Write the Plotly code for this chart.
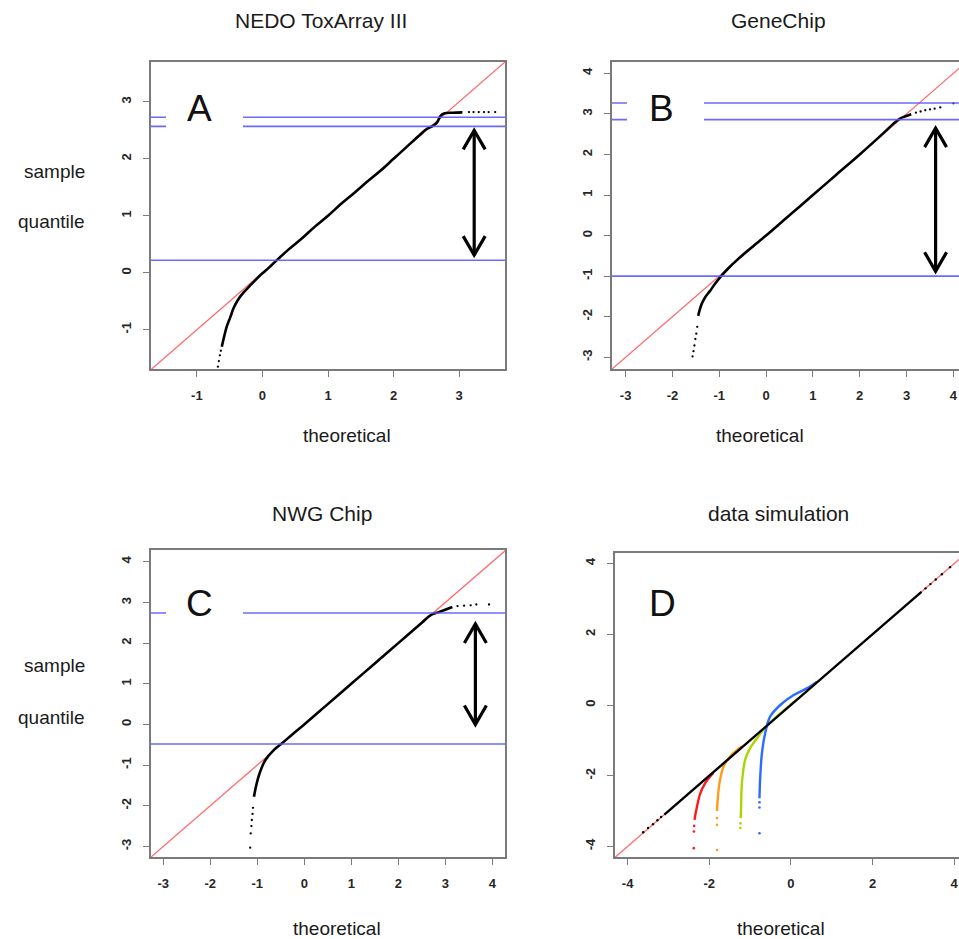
import plotly.graph_objects as go

W, H = 959, 939
FONT = "Liberation Sans, Arial, sans-serif"

# ---------------- data ----------------
titles = ["NEDO ToxArray III", "GeneChip", "NWG Chip", "data simulation"]
letters = ["A", "B", "C", "D"]

# Panel A
a_theo = [-0.62, -0.58, -0.54, -0.49, -0.44, -0.37, -0.29, -0.2, -0.1, 0.0, 0.1, 0.2, 0.4, 0.6, 0.8,
          1.0, 1.2, 1.4, 1.6, 1.8, 2.0, 2.2, 2.4, 2.5, 2.6, 2.66, 2.72, 2.78, 2.9, 3.05]
a_samp = [-1.30, -1.10, -0.93, -0.78, -0.62, -0.47, -0.35, -0.24, -0.12, -0.01, 0.09, 0.2, 0.41, 0.6, 0.81,
          1.0, 1.21, 1.4, 1.6, 1.79, 2.0, 2.21, 2.42, 2.52, 2.58, 2.63, 2.76, 2.80, 2.81, 2.815]
a_tail_theo = [-0.68, -0.665, -0.65, -0.635, 3.15, 3.22, 3.3, 3.38, 3.45, 3.55]
a_tail_samp = [-1.65, -1.55, -1.45, -1.37, 2.82, 2.82, 2.82, 2.82, 2.82, 2.82]
a_hlines = [2.73, 2.57, 0.22]
a_arrow = [3.23, 2.50, 0.31]

# Panel B
b_theo = [-1.45, -1.38, -1.3, -1.2, -1.09, -0.95, -0.8, -0.6, -0.4, -0.2, 0.0, 0.5, 1.0, 1.5, 2.0, 2.5,
          2.72, 2.85, 2.95, 3.1]
b_samp = [-1.98, -1.70, -1.52, -1.37, -1.19, -0.99, -0.80, -0.58, -0.38, -0.19, 0.0, 0.5, 1.0, 1.5, 2.0, 2.52,
          2.76, 2.88, 2.93, 2.99]
b_tail_theo = [-1.57, -1.55, -1.53, -1.51, -1.49, -1.47, 3.2, 3.3, 3.4, 3.5, 3.6, 3.72, 4.0]
b_tail_samp = [-2.98, -2.85, -2.71, -2.55, -2.42, -2.25, 3.03, 3.06, 3.09, 3.11, 3.13, 3.16, 3.26]
b_hlines = [3.27, 2.86, -1.0]
b_arrow = [3.62, 2.65, -0.88]

# Panel C
c_theo = [-1.07, -1.02, -0.95, -0.83, -0.65, -0.48, -0.23, 0.0, 0.5, 1.0, 1.5, 2.0, 2.5, 2.69, 2.83, 2.97, 3.15]
c_samp = [-1.78, -1.49, -1.20, -0.88, -0.63, -0.47, -0.22, 0.0, 0.5, 1.0, 1.5, 2.0, 2.5, 2.69, 2.75, 2.81, 2.89]
c_tail_theo = [-1.15, -1.14, -1.125, -1.115, -1.1, -1.09, 3.26, 3.40, 3.54, 3.66, 3.93]
c_tail_samp = [-3.03, -2.68, -2.5, -2.35, -2.2, -2.05, 2.91, 2.92, 2.93, 2.95, 2.95]
c_hlines = [2.74, -0.48]
c_arrow = [3.64, 2.47, 0.0]

# Panel D (simulation)
d_black_theo = [-3.1, -2.5, -2.0, -1.5, -1.0, -0.5, 0.0, 0.5, 1.0, 1.5, 2.0, 2.5, 3.0, 3.2]
d_black_samp = [-3.1, -2.5, -2.0, -1.5, -1.0, -0.5, 0.0, 0.5, 1.0, 1.5, 2.0, 2.5, 3.0, 3.2]
d_black_tail_theo = [-3.62, -3.5, -3.38, -3.27, -3.18, 3.3, 3.42, 3.55, 3.7, 3.9]
d_black_tail_samp = [-3.6, -3.48, -3.37, -3.26, -3.17, 3.3, 3.42, 3.55, 3.7, 3.9]
d_red_theo = [-2.36, -2.34, -2.30, -2.22, -2.10, -1.98, -1.9]
d_red_samp = [-3.25, -3.1, -2.87, -2.50, -2.21, -2.02, -1.92]
d_red_tail_theo = [-2.38, -2.375, -2.37]
d_red_tail_samp = [-4.05, -3.58, -3.42]
d_orange_theo = [-1.81, -1.80, -1.75, -1.65, -1.49, -1.32, -1.2]
d_orange_samp = [-3.0, -2.78, -2.21, -1.74, -1.46, -1.27, -1.17]
d_orange_tail_theo = [-1.81, -1.81, -1.81]
d_orange_tail_samp = [-4.10, -3.39, -3.2]
d_green_theo = [-1.23, -1.22, -1.20, -1.12, -1.0, -0.83, -0.67, -0.42, -0.1, 0.2]
d_green_samp = [-3.2, -2.87, -2.21, -1.55, -1.22, -0.94, -0.69, -0.40, -0.08, 0.2]
d_green_tail_theo = [-1.24, -1.235]
d_green_tail_samp = [-3.48, -3.35]
d_blue_theo = [-0.77, -0.75, -0.71, -0.63, -0.51, -0.26, 0.07, 0.39, 0.64]
d_blue_samp = [-2.64, -2.02, -1.37, -0.80, -0.33, 0.0, 0.28, 0.47, 0.66]
d_blue_tail_theo = [-0.77, -0.77, -0.77]
d_blue_tail_samp = [-3.63, -2.9, -2.75]

ticks_ab = [[-1, 0, 1, 2, 3], [-3, -2, -1, 0, 1, 2, 3, 4]]
ticks_c = [-3, -2, -1, 0, 1, 2, 3, 4]
ticks_d = [-4, -2, 0, 2, 4]

# ---------------- layout geometry (pixels) ----------------
panels = [
    dict(px=(151, 505), py=(62, 369), xr=(-1.70, 3.70), yr=(-1.69, 3.70), xt=ticks_ab[0], yt=ticks_ab[0], right=True),
    dict(px=(612, 959), py=(62, 369), xr=(-3.29, 4.12), yr=(-3.29, 4.28), xt=ticks_ab[1], yt=ticks_ab[1], right=False),
    dict(px=(151, 505), py=(550, 857), xr=(-3.26, 4.27), yr=(-3.26, 4.29), xt=ticks_c, yt=ticks_c, right=True),
    dict(px=(615, 959), py=(553, 857), xr=(-4.31, 4.12), yr=(-4.30, 4.30), xt=ticks_d, yt=ticks_d, right=False),
]
title_pos = [(321, 21), (778, 21), (322, 513), (778, 513)]
xlab_pos = [(347, 435), (760, 436), (337, 928), (781, 928)]
letter_box = [(166, 70, 243, 140), (627, 72, 704, 140), (166, 565, 243, 635), (626, 567, 704, 635)]
letter_pos = [(199, 109), (661, 109), (199, 603), (662, 603)]


def px2x(p):
    return p / W


def py2y(p):
    return 1 - p / H


def tick_text(vals):
    return ["<b>%s</b>" % str(v) for v in vals]


fig = go.Figure()
layout = dict(width=W, height=H, margin=dict(l=0, r=0, t=0, b=0), showlegend=False,
              paper_bgcolor="white", plot_bgcolor="white", font=dict(family=FONT, color="#222"))
shapes = []
annotations = []

GRAY = "#7a7a7a"
RED = "rgba(255,90,90,0.9)"
BLUE = "rgba(90,90,255,0.9)"
TICKFONT = dict(size=13, color="#262626")

for i, p in enumerate(panels):
    k = "" if i == 0 else str(i + 1)
    xa, ya = "x" + k, "y" + k
    layout["xaxis" + k] = dict(domain=[px2x(p["px"][0]), px2x(p["px"][1])], range=list(p["xr"]), anchor=ya,
                               tickvals=p["xt"], ticktext=tick_text(p["xt"]), ticks="outside", ticklen=6,
                               tickcolor=GRAY, tickwidth=1.3,
                               showline=True, linecolor=GRAY, linewidth=1.5, mirror=True, showgrid=False,
                               zeroline=False, tickfont=TICKFONT, ticklabelstandoff=8,
                               fixedrange=True)
    layout["yaxis" + k] = dict(domain=[py2y(p["py"][1]), py2y(p["py"][0])], range=list(p["yr"]), anchor=xa,
                               tickvals=p["yt"], ticktext=tick_text(p["yt"]), ticks="outside", ticklen=6,
                               tickcolor=GRAY, tickwidth=1.3,
                               showline=True, linecolor=GRAY, linewidth=1.5, mirror=p["right"], showgrid=False,
                               zeroline=False, tickfont=TICKFONT, tickangle=-90,
                               ticklabelstandoff=7, fixedrange=True)
    # identity line
    lo = min(p["xr"][0], p["yr"][0])
    hi = max(p["xr"][1], p["yr"][1])
    fig.add_trace(go.Scatter(x=[lo, hi], y=[lo, hi], mode="lines", line=dict(color=RED, width=1.3),
                             xaxis=xa, yaxis=ya, hoverinfo="skip"))
    # titles / labels
    annotations.append(dict(text=titles[i], x=px2x(title_pos[i][0]), y=py2y(title_pos[i][1]), xref="paper",
                            yref="paper", showarrow=False, font=dict(size=21, color="#1a1a1a"),
                            xanchor="center", yanchor="middle"))
    annotations.append(dict(text="theoretical", x=px2x(xlab_pos[i][0]), y=py2y(xlab_pos[i][1]), xref="paper",
                            yref="paper", showarrow=False, font=dict(size=19, color="#1a1a1a"),
                            xanchor="center", yanchor="middle"))

# black QQ curves for A, B, C
qq = [(a_theo, a_samp, a_tail_theo, a_tail_samp, a_hlines, a_arrow),
      (b_theo, b_samp, b_tail_theo, b_tail_samp, b_hlines, b_arrow),
      (c_theo, c_samp, c_tail_theo, c_tail_samp, c_hlines, c_arrow)]
for i, (tx, sy, ttx, tsy, hl, arr) in enumerate(qq):
    k = "" if i == 0 else str(i + 1)
    xa, ya = "x" + k, "y" + k
    p = panels[i]
    fig.add_trace(go.Scatter(x=tx, y=sy, mode="lines", line=dict(color="black", width=2.6, shape="spline"),
                             xaxis=xa, yaxis=ya, hoverinfo="skip"))
    fig.add_trace(go.Scatter(x=ttx, y=tsy, mode="markers", marker=dict(color="black", size=2.3),
                             xaxis=xa, yaxis=ya, hoverinfo="skip"))
    for yv in hl:
        shapes.append(dict(type="line", xref=xa + " domain", yref=ya, x0=0, x1=1, y0=yv, y1=yv,
                           line=dict(color=BLUE, width=1.6), layer="above"))
    # double-headed arrow
    ux = (p["xr"][1] - p["xr"][0]) / (p["px"][1] - p["px"][0])  # data per px
    uy = (p["yr"][1] - p["yr"][0]) / (p["py"][1] - p["py"][0])
    ax, atop, abot = arr
    hx, hy = 11 * ux, 19 * uy
    xs = [ax, ax, None, ax - hx, ax, ax + hx, None, ax - hx, ax, ax + hx]
    ys = [atop, abot, None, atop - hy, atop, atop - hy, None, abot + hy, abot, abot + hy]
    fig.add_trace(go.Scatter(x=xs, y=ys, mode="lines", line=dict(color="black", width=3.2),
                             xaxis=xa, yaxis=ya, hoverinfo="skip"))

# Panel D
for tx, sy, ttx, tsy, col in [
    (d_red_theo, d_red_samp, d_red_tail_theo, d_red_tail_samp, "#ff1a1a"),
    (d_orange_theo, d_orange_samp, d_orange_tail_theo, d_orange_tail_samp, "#ff9a1a"),
    (d_green_theo, d_green_samp, d_green_tail_theo, d_green_tail_samp, "#a8d600"),
    (d_blue_theo, d_blue_samp, d_blue_tail_theo, d_blue_tail_samp, "#2a6cff"),
]:
    fig.add_trace(go.Scatter(x=tx, y=sy, mode="lines", line=dict(color=col, width=2.4, shape="spline"),
                             xaxis="x4", yaxis="y4", hoverinfo="skip"))
    fig.add_trace(go.Scatter(x=ttx, y=tsy, mode="markers", marker=dict(color=col, size=2.6),
                             xaxis="x4", yaxis="y4", hoverinfo="skip"))
fig.add_trace(go.Scatter(x=d_black_theo, y=d_black_samp, mode="lines", line=dict(color="black", width=2.4),
                         xaxis="x4", yaxis="y4", hoverinfo="skip"))
fig.add_trace(go.Scatter(x=d_black_tail_theo, y=d_black_tail_samp, mode="markers",
                         marker=dict(color="black", size=2.4), xaxis="x4", yaxis="y4", hoverinfo="skip"))

# white label boxes + letters
for i in range(4):
    x0, y0, x1, y1 = letter_box[i]
    shapes.append(dict(type="rect", xref="paper", yref="paper", x0=px2x(x0), x1=px2x(x1), y0=py2y(y1),
                       y1=py2y(y0), fillcolor="white", line=dict(width=0), layer="above"))
    annotations.append(dict(text=letters[i], x=px2x(letter_pos[i][0]), y=py2y(letter_pos[i][1]), xref="paper",
                            yref="paper", showarrow=False, font=dict(size=37, color="#111"),
                            xanchor="center", yanchor="middle"))

# left side labels
for yy in [(172, 222), (665, 717)]:
    annotations.append(dict(text="sample", x=px2x(54), y=py2y(yy[0]), xref="paper", yref="paper",
                            showarrow=False, font=dict(size=19, color="#1a1a1a"), xanchor="center",
                            yanchor="middle"))
    annotations.append(dict(text="quantile", x=px2x(51), y=py2y(yy[1]), xref="paper", yref="paper",
                            showarrow=False, font=dict(size=19, color="#1a1a1a"), xanchor="center",
                            yanchor="middle"))

layout["shapes"] = shapes
layout["annotations"] = annotations
fig.update_layout(**layout)
fig.write_html("out.html", config={"displayModeBar": False})
